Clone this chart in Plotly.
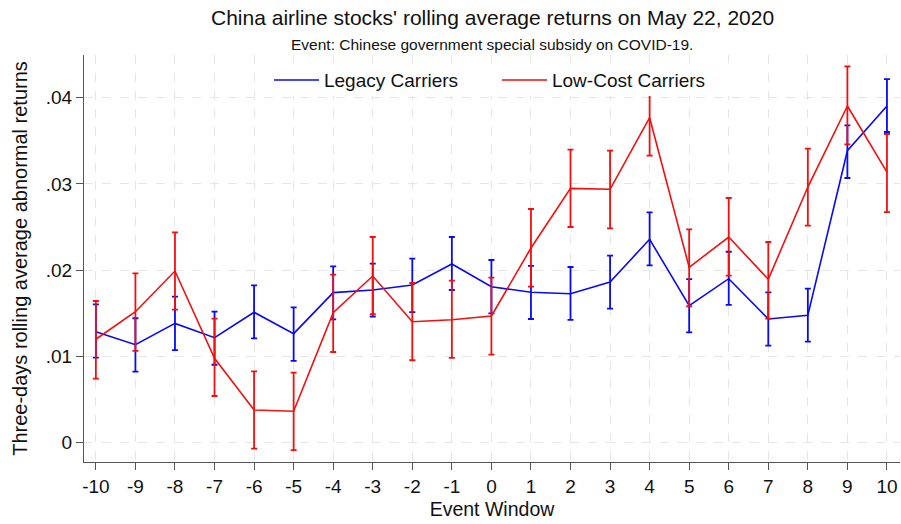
import plotly.graph_objects as go

event_window = list(range(-10, 11))
x_ticktext = [str(v) for v in event_window]  # plain hyphen minus, as in the reference

legacy_mean = [0.01284, 0.01133, 0.0138, 0.01214, 0.01509, 0.01261, 0.01737, 0.01768, 0.01826, 0.0207,
               0.01806, 0.01741, 0.01725, 0.01861, 0.02356, 0.01586, 0.01899, 0.01431, 0.01474, 0.03385, 0.03904]
legacy_upper = [0.01602, 0.0144, 0.0169, 0.01516, 0.01822, 0.01567, 0.02043, 0.02073, 0.02131, 0.02383,
                0.02116, 0.02047, 0.02035, 0.02166, 0.0267, 0.01895, 0.02212, 0.01741, 0.01783, 0.0368, 0.04217]
legacy_lower = [0.00982, 0.0082, 0.0107, 0.0090, 0.01207, 0.00944, 0.01427, 0.01458, 0.01512, 0.01768,
                0.01497, 0.01431, 0.0142, 0.01551, 0.02054, 0.01277, 0.01594, 0.01121, 0.01168, 0.03068, 0.03602]

lcc_mean = [0.01196, 0.01516, 0.01988, 0.00975, 0.00375, 0.0036, 0.01505, 0.0193, 0.014, 0.01423,
            0.01466, 0.02255, 0.02948, 0.02937, 0.03768, 0.02031, 0.02383, 0.01892, 0.02963, 0.03904, 0.03137]
lcc_upper = [0.0164, 0.01961, 0.02437, 0.01435, 0.00824, 0.00808, 0.01946, 0.02383, 0.01849, 0.01876,
             0.01911, 0.02708, 0.03397, 0.03385, 0.04209, 0.02472, 0.02836, 0.02325, 0.03408, 0.04364, 0.03579]
lcc_lower = [0.00739, 0.0106, 0.01539, 0.00537, -0.00074, -0.0009, 0.01048, 0.01486, 0.00952, 0.00979,
             0.01017, 0.01806, 0.02499, 0.02484, 0.03327, 0.01579, 0.01934, 0.01435, 0.02514, 0.03459, 0.02673]

y_tickvals = [0, 0.01, 0.02, 0.03, 0.04]
y_ticktext = ["0", ".01", ".02", ".03", ".04"]

title_text = "China airline stocks' rolling average returns on May 22, 2020"
subtitle_text = "Event: Chinese government special subsidy on COVID-19."

FONT = "Liberation Sans, Arial, Helvetica, sans-serif"
BLUE = "#0a0af0"
RED = "#f01010"
TXT = "#111111"

fig = go.Figure()

def add_series(name, mean, upper, lower, color, legend):
    plus = [u - m for u, m in zip(upper, mean)]
    minus = [m - l for m, l in zip(mean, lower)]
    fig.add_trace(go.Scatter(
        x=event_window, y=mean, mode="lines", name=name, showlegend=True,
        line=dict(color=color, width=1.6),
        error_y=dict(type="data", array=plus, arrayminus=minus, visible=True,
                     color=color, thickness=1.8, width=3),
        legend=legend,
    ))

add_series("Legacy Carriers", legacy_mean, legacy_upper, legacy_lower, BLUE, "legend")
add_series("Low-Cost Carriers", lcc_mean, lcc_upper, lcc_lower, RED, "legend2")

axis_common = dict(
    showline=True, linecolor="#555555", linewidth=1.3,
    ticks="outside", ticklen=7, tickcolor="#555555", tickwidth=1.3,
    showgrid=True, gridcolor="#e6e6e6", gridwidth=1, griddash="dash",
    zeroline=False, mirror=False,
    tickfont=dict(size=19, color=TXT, family=FONT),
)

legend_common = dict(y=0.985, xanchor="left", yanchor="top", bgcolor="rgba(0,0,0,0)",
                     font=dict(size=19, family=FONT, color=TXT), itemwidth=45)

fig.update_layout(
    width=901, height=524,
    margin=dict(l=84, r=1, t=55, b=62),
    paper_bgcolor="white", plot_bgcolor="white",
    font=dict(family=FONT, color=TXT),
    showlegend=True,
    xaxis=dict(
        **axis_common,
        range=[-10.3, 10.33],
        tickvals=event_window, ticktext=x_ticktext,
        title=dict(text="Event Window", font=dict(size=19.5, family=FONT, color=TXT), standoff=6),
    ),
    yaxis=dict(
        **axis_common,
        range=[-0.00229, 0.04496],
        tickvals=y_tickvals, ticktext=y_ticktext,
        title=dict(text="Three-days rolling average abnormal returns",
                   font=dict(size=20, family=FONT, color=TXT), standoff=12),
    ),
    legend=dict(x=0.2267, **legend_common),
    legend2=dict(x=0.5061, **legend_common),
    shapes=[
        # white legend background box that hides the grid/marks beneath the key
        dict(type="rect", xref="paper", yref="paper", x0=0.213, x1=0.80, y0=0.899, y1=0.980,
             fillcolor="white", line=dict(width=0), layer="above"),
    ],
    annotations=[
        dict(text=title_text, xref="paper", yref="paper", x=0.5, y=1.091,
             xanchor="center", yanchor="middle", showarrow=False,
             font=dict(size=21, family=FONT, color=TXT)),
        dict(text=subtitle_text, xref="paper", yref="paper", x=0.5, y=1.0246,
             xanchor="center", yanchor="middle", showarrow=False,
             font=dict(size=15.5, family=FONT, color=TXT)),
    ],
)

fig.write_html("out.html")
